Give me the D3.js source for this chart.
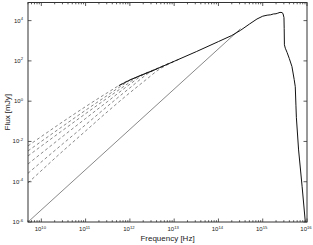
<!DOCTYPE html>
<meta charset="utf-8">
<body style="margin:0;background:#fff">
<style>
text { font-family: "Liberation Sans", Arial, sans-serif; fill: #222; }
.frame { fill: none; stroke: #333; stroke-width: 1px; }
.tick line { stroke: #333; stroke-width: 0.8px; }
.main { fill: none; stroke: #111; stroke-width: 1px; }
.thin { fill: none; stroke: #555; stroke-width: 0.7px; }
.dash { fill: none; stroke: #555; stroke-width: 0.7px; stroke-dasharray: 3,2.5; }
</style>
<script src="https://d3js.org/d3.v7.min.js"></script>
<script>

// all values as log10 exponents: frequency [Hz], flux [mJy]
var xTicks = [10, 11, 12, 13, 14, 15, 16];
var yTicks = [-6, -4, -2, 0, 2, 4];

// total spectrum (black)
var mainF = [11.75, 12.0, 12.5, 13.0, 13.5, 14.0, 14.3, 14.5, 14.7, 14.87, 15.0, 15.1, 15.18, 15.24, 15.3, 15.34, 15.39, 15.44, 15.46, 15.48, 15.485, 15.49, 15.51, 15.55, 15.6, 15.66, 15.71, 15.735, 15.75, 15.76, 15.81, 15.89, 15.962];
var mainS = [0.77, 1.05, 1.50, 1.98, 2.46, 2.96, 3.26, 3.52, 3.83, 4.08, 4.22, 4.27, 4.29, 4.33, 4.34, 4.37, 4.41, 4.40, 4.33, 4.15, 3.60, 2.80, 2.63, 2.42, 2.12, 1.72, 1.08, 0.72, -0.20, -0.80, -2.42, -4.25, -6.0];

// Rayleigh-Jeans tail (thin grey)
var rjF = [9.699, 14.5];
var rjS = [-6.0, 3.6];

// model variants (dashed)
var dashF = [
  [9.699, 10.5, 11.0, 11.5, 11.9, 12.2, 12.5],
  [9.699, 10.5, 11.0, 11.5, 11.8, 12.05, 12.3, 12.6],
  [9.699, 10.5, 11.0, 11.5, 11.9, 12.2, 12.5, 12.8],
  [9.699, 10.5, 11.0, 11.5, 12.0, 12.35, 12.6, 12.9],
  [9.699, 10.5, 11.0, 11.5, 12.0, 12.5, 12.8, 13.0],
  [9.699, 10.5, 11.0, 11.5, 12.0, 12.35, 12.65, 12.9, 13.1]
];
var dashS = [
  [-2.22, -1.00, -0.27, 0.43, 0.96, 1.24, 1.50],
  [-2.47, -1.22, -0.45, 0.30, 0.75, 1.10, 1.33, 1.60],
  [-2.72, -1.42, -0.62, 0.17, 0.79, 1.24, 1.50, 1.79],
  [-3.12, -1.72, -0.86, -0.01, 0.84, 1.38, 1.61, 1.90],
  [-3.58, -2.09, -1.17, -0.24, 0.66, 1.50, 1.79, 1.98],
  [-4.06, -2.45, -1.48, -0.51, 0.42, 1.04, 1.56, 1.87, 2.07]
];

var W = 313, H = 245;
var L = 28, R = 307, T = 2.5, B = 222;

var svg = d3.select("body").append("svg")
    .attr("width", W)
    .attr("height", H);

var x = d3.scaleLog().domain([5e9, 1e16]).range([L, R]);
var y = d3.scaleLog().domain([1e-6, Math.pow(10, 4.9)]).range([B, T]);

function pts(fs, ss) {
  return fs.map(function(f, i) { return [Math.pow(10, f), Math.pow(10, ss[i])]; });
}

var line = d3.line()
    .x(function(d) { return x(d[0]); })
    .y(function(d) { return y(d[1]); });

var smooth = d3.line()
    .curve(d3.curveMonotoneX)
    .x(function(d) { return x(d[0]); })
    .y(function(d) { return y(d[1]); });

svg.append("clipPath").attr("id", "c")
  .append("rect").attr("x", L).attr("y", T).attr("width", R - L).attr("height", B - T);

var g = svg.append("g").attr("clip-path", "url(#c)");

g.append("path").attr("class", "thin").attr("d", line(pts(rjF, rjS)));

dashF.forEach(function(f, i) {
  g.append("path").attr("class", "dash").attr("d", smooth(pts(f, dashS[i])));
});

g.append("path").attr("class", "main").attr("d", smooth(pts(mainF.slice(0, 6), mainS.slice(0, 6))));
g.append("path").attr("class", "main").attr("d", line(pts(mainF.slice(5), mainS.slice(5))));

// minor ticks on x (2..9 per decade)
var minor = [];
for (var e = 9; e < 16; e++) {
  for (var k = 2; k <= 9; k++) {
    var v = k * Math.pow(10, e);
    if (v >= 5e9 && v <= 1e16) minor.push(v);
  }
}

var ticks = svg.append("g").attr("class", "tick");
minor.forEach(function(v) {
  ticks.append("line").attr("x1", x(v)).attr("x2", x(v)).attr("y1", B).attr("y2", B - 1.8);
  ticks.append("line").attr("x1", x(v)).attr("x2", x(v)).attr("y1", T).attr("y2", T + 1.8);
});
xTicks.forEach(function(t) {
  var v = Math.pow(10, t);
  ticks.append("line").attr("x1", x(v)).attr("x2", x(v)).attr("y1", B).attr("y2", B - 3.5);
  ticks.append("line").attr("x1", x(v)).attr("x2", x(v)).attr("y1", T).attr("y2", T + 3.5);
});
yTicks.forEach(function(t) {
  var v = Math.pow(10, t);
  ticks.append("line").attr("x1", L).attr("x2", L + 3.5).attr("y1", y(v)).attr("y2", y(v));
  ticks.append("line").attr("x1", R).attr("x2", R - 3.5).attr("y1", y(v)).attr("y2", y(v));
});

svg.append("rect").attr("class", "frame")
    .attr("x", L).attr("y", T).attr("width", R - L).attr("height", B - T);

// tick labels
xTicks.forEach(function(t) {
  var tx = svg.append("text")
      .attr("x", x(Math.pow(10, t)) - 1)
      .attr("y", B + 9)
      .attr("text-anchor", "middle")
      .style("font-size", "6px");
  tx.append("tspan").text("10");
  tx.append("tspan").attr("dy", -2.5).style("font-size", "4.2px").text(t);
});

yTicks.forEach(function(t) {
  var ty = svg.append("text")
      .attr("x", L - 5)
      .attr("y", y(Math.pow(10, t)) + 2)
      .attr("text-anchor", "end")
      .style("font-size", "6px");
  ty.append("tspan").text("10");
  ty.append("tspan").attr("dy", -2.5).style("font-size", "4.2px").text(t);
});

svg.append("text")
    .attr("x", (L + R) / 2)
    .attr("y", 241)
    .attr("text-anchor", "middle")
    .style("font-size", "8px")
    .text("Frequency [Hz]");

svg.append("text")
    .attr("transform", "translate(10," + ((T + B) / 2) + ") rotate(-90)")
    .attr("text-anchor", "middle")
    .style("font-size", "8px")
    .text("Flux [mJy]");

</script>
</body>
</html>
